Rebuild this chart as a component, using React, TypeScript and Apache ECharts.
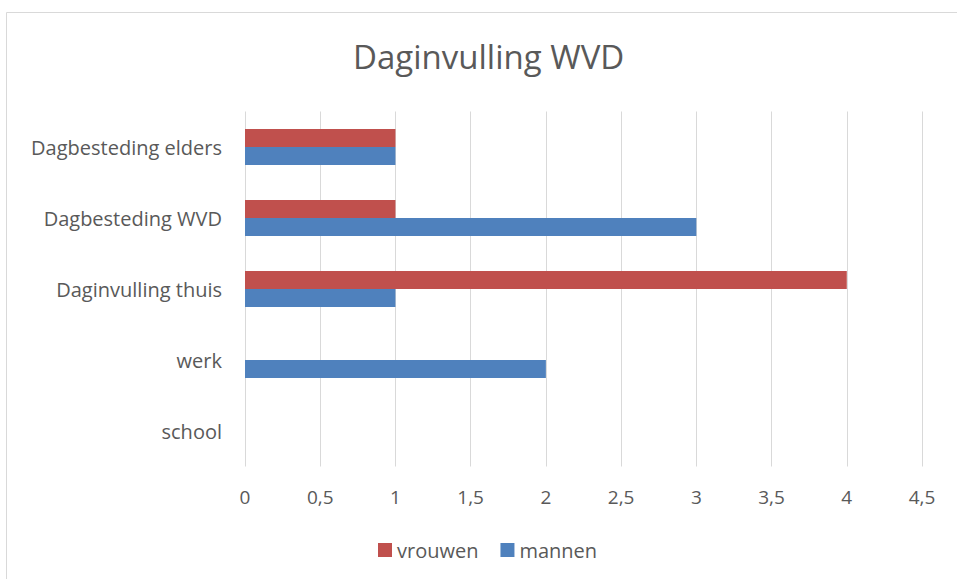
import React, { useEffect, useRef } from "react";
import * as echarts from "echarts";

const categories = ["school", "werk", "Daginvulling thuis", "Dagbesteding WVD", "Dagbesteding elders"];
const vrouwen = [0, 0, 4, 1, 1];
const mannen = [0, 2, 1, 3, 1];
const title = "Daginvulling WVD";

export default function App() {
  const ref = useRef<HTMLDivElement>(null);
  useEffect(() => {
    const chart = echarts.init(ref.current!, null, { renderer: "svg" });
    const font = "'Open Sans', sans-serif";
    chart.setOption({
      animation: false,
      backgroundColor: "#ffffff",
      title: {
        text: title,
        left: 348,
        top: 35,
        textStyle: { fontFamily: font, fontSize: 33, fontWeight: "normal", color: "#595959" },
      },
      graphic: [
        {
          type: "rect",
          shape: { x: 6.5, y: 12.5, width: 1000, height: 1000 },
          style: { fill: "none", stroke: "#d9d9d9", lineWidth: 1 },
          silent: true,
        },
      ],
      legend: {
        top: 535,
        left: 373,
        itemWidth: 14,
        itemHeight: 14,
        itemGap: 22,
        icon: "rect",
        textStyle: { fontFamily: font, fontSize: 20, color: "#595959" },
        data: ["vrouwen", "mannen"],
      },
      grid: { left: 245, right: 35, top: 111.5, bottom: 112.5, containLabel: false },
      xAxis: {
        type: "value",
        min: 0,
        max: 4.5,
        interval: 0.5,
        axisLine: { show: false },
        axisTick: { show: false },
        splitLine: { show: true, lineStyle: { color: "#d9d9d9", width: 1 } },
        axisLabel: {
          margin: 21,
          fontFamily: font,
          fontSize: 19,
          color: "#595959",
          formatter: (v: number) => String(v).replace(".", ","),
        },
      },
      yAxis: {
        type: "category",
        data: categories,
        axisLine: { show: false },
        axisTick: { show: false },
        axisLabel: { margin: 23, fontFamily: font, fontSize: 20, color: "#595959" },
      },
      series: [
        {
          name: "vrouwen",
          type: "bar",
          data: vrouwen,
          itemStyle: { color: "#C0504D" },
          barGap: "0%",
          barCategoryGap: "49%",
        },
        {
          name: "mannen",
          type: "bar",
          data: mannen,
          itemStyle: { color: "#4F81BD" },
          barGap: "0%",
          barCategoryGap: "49%",
        },
      ],
    });
    return () => chart.dispose();
  }, []);
  return (
    <div
      ref={ref}
      style={{ position: "fixed", left: 0, top: 0, width: 957, height: 579 }}
    />
  );
}
